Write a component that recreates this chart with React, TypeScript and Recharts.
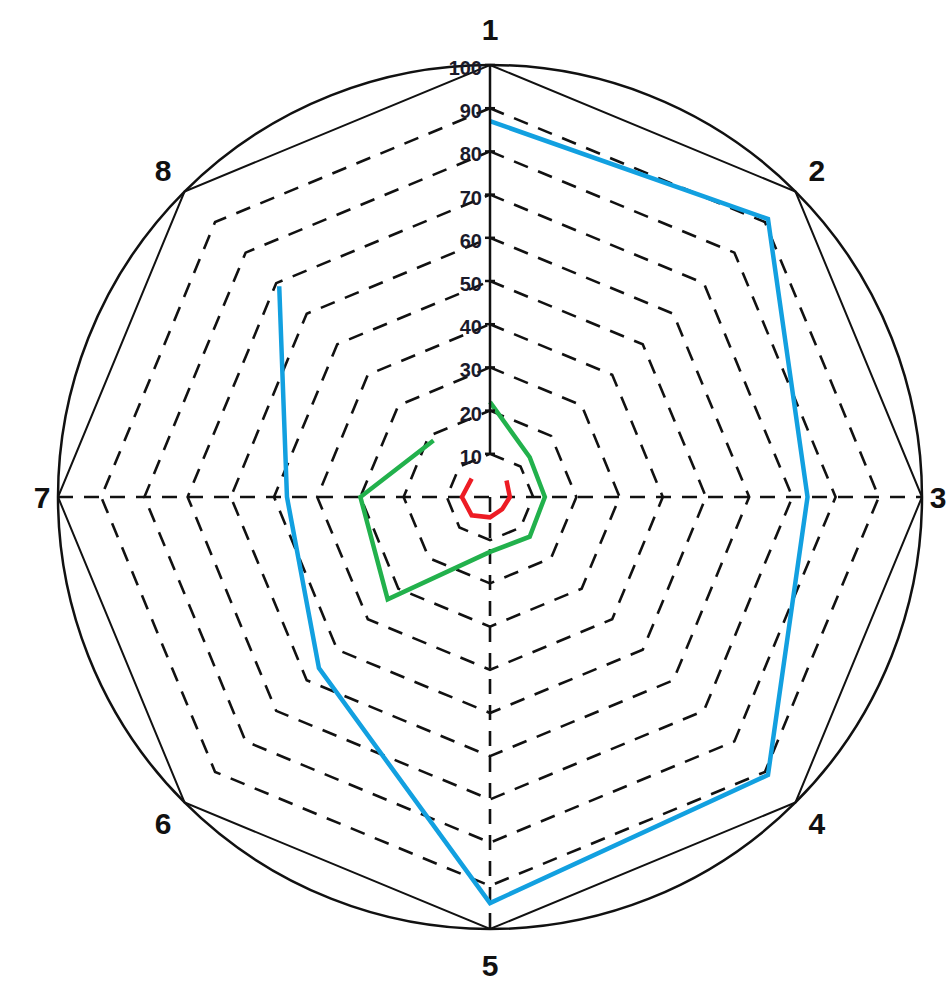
import React from 'react';
import { RadarChart, Radar, PolarGrid, PolarAngleAxis, PolarRadiusAxis } from 'recharts';

const axes = ['1', '2', '3', '4', '5', '6', '7', '8'];
const blueValues = [87, 91, 73.5, 91, 94, 56, 47, 69];
const greenValues = [22, 13, 12.7, 13, 12.7, 33.5, 30, 18.5];
const redValues: (number | null)[] = [null, 5.4, 4.6, 4, 4.7, 6, 6.5, 6];
const radiusTicks = [10, 20, 30, 40, 50, 60, 70, 80, 90, 100];
const ringLevels = [10, 20, 30, 40, 50, 60, 70, 80, 90];

const data = axes.map((a, i) => ({
  axis: a,
  blue: blueValues[i],
  green: greenValues[i],
  red: redValues[i],
}));

const CX = 490;
const CY = 497;
const R = 432;
const RAD = Math.PI / 180;
const polar = (cx: number, cy: number, r: number, angle: number) => ({
  x: cx + r * Math.cos(-angle * RAD),
  y: cy + r * Math.sin(-angle * RAD),
});

const FONT = '"Liberation Sans", Arial, sans-serif';

const makeOpenLine = (values: (number | null)[], color: string, withSpokes: boolean) => (props: any) => {
  const points: any[] = props.points || [];
  const pts = points.filter((p, i) => values[i] != null);
  const d = pts.map((p, i) => `${i ? 'L' : 'M'}${p.x},${p.y}`).join(' ');
  let spokes = null;
  if (withSpokes && points.length === 8) {
    const c = { x: points[0].cx, y: points[0].cy };
    const a3 = polar(c.x, c.y, R, points[2].angle);
    const a7 = polar(c.x, c.y, R, points[6].angle);
    const a5 = polar(c.x, c.y, R, points[4].angle);
    spokes = (
      <g stroke="#111" strokeWidth={2.6} strokeDasharray="15 11" fill="none">
        <line x1={a7.x} y1={a7.y} x2={a3.x} y2={a3.y} />
        <line x1={c.x} y1={c.y} x2={a5.x} y2={a5.y} />
      </g>
    );
  }
  return (
    <g>
      {spokes}
      <path d={d} fill="none" stroke={color} strokeWidth={4.5} strokeLinejoin="miter" />
    </g>
  );
};

const RadiusTick = (props: any) => {
  const { x, y, payload } = props;
  return (
    <g>
      <line x1={x - 5} x2={x + 5} y1={y} y2={y} stroke="#111" strokeWidth={2.5} />
      <text
        x={x - 8}
        y={y + 10}
        textAnchor="end"
        fontSize={20}
        fontWeight="bold"
        fontFamily={FONT}
        fill="#1a1a2a"
      >
        {payload.value}
      </text>
    </g>
  );
};

const AngleTick = (props: any) => {
  const { payload, cx, cy } = props;
  const a = payload.coordinate;
  const off = 16 + 20 * Math.abs(Math.sin(a * RAD));
  const p = polar(cx ?? CX, cy ?? CY, R + off, a);
  return (
    <text
      x={p.x}
      y={p.y}
      textAnchor="middle"
      dominantBaseline="central"
      fontSize={30}
      fontWeight="bold"
      fontFamily={FONT}
      fill="#111"
    >
      {payload.value}
    </text>
  );
};

export default function App() {
  return (
    <div style={{ position: 'absolute', left: 0, top: 0, width: 950, height: 993, background: '#fff' }}>
      <RadarChart width={950} height={993} data={data} cx={CX} cy={CY} outerRadius={R}>
        <PolarGrid
          gridType="polygon"
          polarRadius={ringLevels.map((v) => (v / 100) * R)}
          radialLines={false}
          stroke="#111"
          strokeWidth={2.6}
          strokeDasharray="15 11"
        />
        <PolarGrid gridType="polygon" polarRadius={[R]} radialLines={false} stroke="#111" strokeWidth={2} />
        <PolarAngleAxis
          dataKey="axis"
          axisLineType="circle"
          axisLine={{ stroke: '#111', strokeWidth: 2.5 }}
          tickLine={false}
          tick={<AngleTick />}
        />
        <PolarRadiusAxis
          angle={90}
          domain={[0, 100]}
          ticks={radiusTicks}
          tick={<RadiusTick />}
          axisLine={{ stroke: '#111', strokeWidth: 2.5 }}
          tickLine={false}
        />
        <Radar
          dataKey="blue"
          isAnimationActive={false}
          dot={false}
          shape={makeOpenLine(blueValues, '#12a0e0', true)}
        />
        <Radar
          dataKey="green"
          isAnimationActive={false}
          dot={false}
          shape={makeOpenLine(greenValues, '#22b14c', false)}
        />
        <Radar
          dataKey="red"
          isAnimationActive={false}
          dot={false}
          shape={makeOpenLine(redValues, '#ed1c24', false)}
        />
      </RadarChart>
    </div>
  );
}
